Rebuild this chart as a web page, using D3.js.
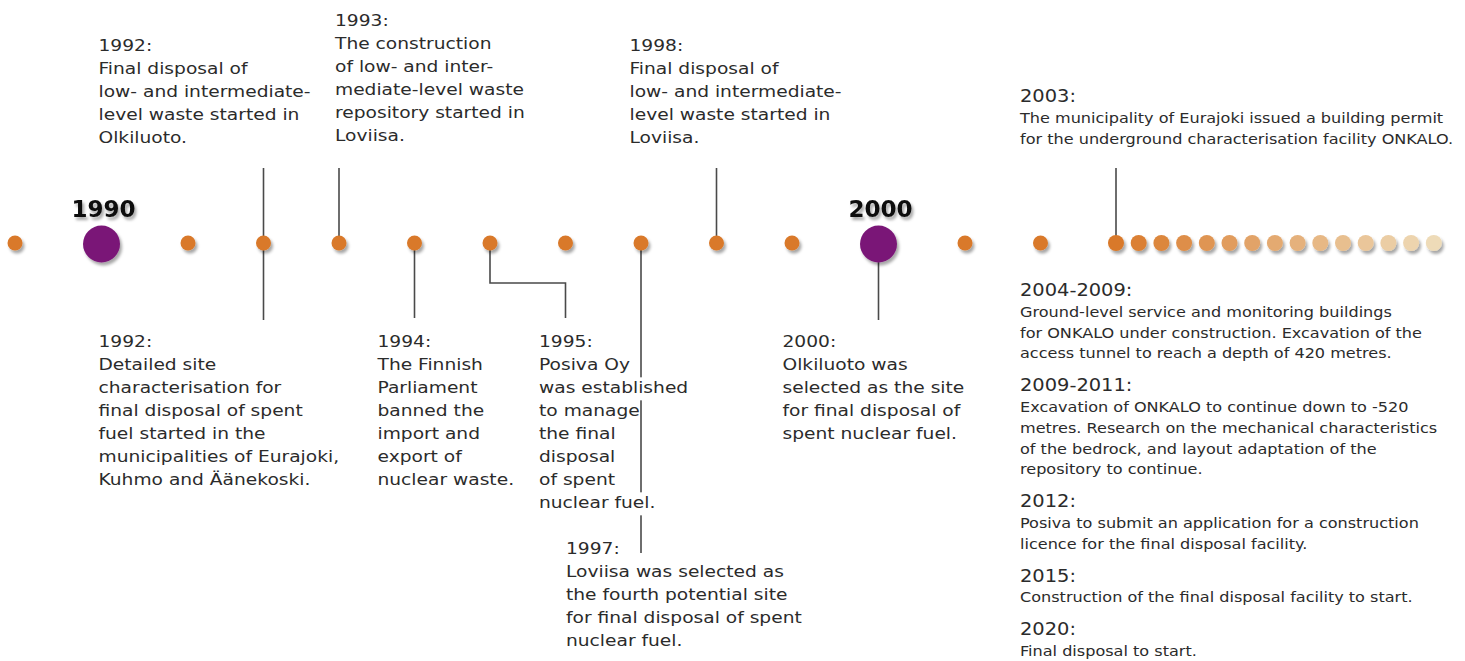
<!DOCTYPE html>
<html>
<head>
<meta charset="utf-8">
<script src="https://cdn.jsdelivr.net/npm/d3@7"></script>
<style>
  body { margin: 0; background: #fff; }
  svg { display: block; }
</style>
</head>
<body>
<svg id="chart"></svg>
<script>
// years shown as dots on the line
const pastYears = [1989, 1990, 1991, 1992, 1993, 1994, 1995, 1996, 1997, 1998, 1999, 2000, 2001, 2002];
const futureYears = [2003, 2004, 2005, 2006, 2007, 2008, 2009, 2010, 2011, 2012, 2013, 2014, 2015, 2016, 2017];
const decadeYears = [1990, 2000];

// events above the line
const topYears = [1992, 1993, 1998, 2003];
const topTexts = [
    ["1992:", "Final disposal of", "low- and intermediate-", "level waste started in", "Olkiluoto."],
    ["1993:", "The construction", "of low- and inter-", "mediate-level waste", "repository started in", "Loviisa."],
    ["1998:", "Final disposal of", "low- and intermediate-", "level waste started in", "Loviisa."],
    ["2003:", "The municipality of Eurajoki issued a building permit", "for the underground characterisation facility ONKALO."]
];

// events below the line
const bottomYears = [1992, 1994, 1995, 1997, 2000];
const bottomTexts = [
    ["1992:", "Detailed site", "characterisation for", "final disposal of spent", "fuel started in the", "municipalities of Eurajoki,", "Kuhmo and Äänekoski."],
    ["1994:", "The Finnish", "Parliament", "banned the", "import and", "export of", "nuclear waste."],
    ["1995:", "Posiva Oy", "was established", "to manage", "the final", "disposal", "of spent", "nuclear fuel."],
    ["1997:", "Loviisa was selected as", "the fourth potential site", "for final disposal of spent", "nuclear fuel."],
    ["2000:", "Olkiluoto was", "selected as the site", "for final disposal of", "spent nuclear fuel."]
];

// plans listed on the right
const planHeads = ["2004-2009:", "2009-2011:", "2012:", "2015:", "2020:"];
const planTexts = [
    ["Ground-level service and monitoring buildings", "for ONKALO under construction. Excavation of the", "access tunnel to reach a depth of 420 metres."],
    ["Excavation of ONKALO to continue down to -520", "metres. Research on the mechanical characteristics", "of the bedrock, and layout adaptation of the", "repository to continue."],
    ["Posiva to submit an application for a construction", "licence for the final disposal facility."],
    ["Construction of the final disposal facility to start."],
    ["Final disposal to start."]
];

const width = 1465, height = 661;
const lineY = 243;
const textColor = "#2b2b2b";
const stroke = "#4a4a4a";

const svg = d3.select("#chart")
    .attr("width", width)
    .attr("height", height)
    .style("background", "#fff");

// soft shadow for the dots and decade labels
const defs = svg.append("defs");
defs.append("filter").attr("id", "shadow")
    .attr("x", "-50%").attr("y", "-50%").attr("width", "200%").attr("height", "200%")
    .append("feDropShadow")
    .attr("dx", 2).attr("dy", 3).attr("stdDeviation", 1.8)
    .attr("flood-color", "#000").attr("flood-opacity", 0.35);

// piecewise x scale: wider gap round the decade dots, tight spacing for future years
const step = 75.5, decadeStep = 86.5, futureStep = 22.7;
const knots = [1989, 1990, 1991, 1999, 2000, 2001, 2003, 2017];
const gaps = [decadeStep, decadeStep, step, decadeStep, decadeStep, step, futureStep];
const knotX = [15];
gaps.forEach((g, i) => knotX.push(knotX[i] + g * (knots[i + 1] - knots[i])));
const x = d3.scaleLinear().domain(knots).range(knotX);

const futureColor = d3.scaleLinear()
    .domain([0, futureYears.length - 1])
    .range(["#d9792a", "#eedbb8"])
    .interpolate(d3.interpolateRgb);

// connector lines (drawn first, text boxes sit on top)
const link = d3.line();
const connectors = [
    [[x(1992), 168], [x(1992), lineY]],
    [[x(1993), 168], [x(1993), lineY]],
    [[x(1998), 168], [x(1998), lineY]],
    [[x(2003), 168], [x(2003), lineY]],
    [[x(1992), lineY], [x(1992), 320]],
    [[x(1994), lineY], [x(1994), 318]],
    [[x(1995), lineY], [x(1995), 283], [x(1996), 283], [x(1996), 318]],
    [[x(1997), lineY], [x(1997), 553]],
    [[x(2000), lineY], [x(2000), 320]]
];
svg.append("g").selectAll("path")
    .data(connectors)
    .join("path")
    .attr("d", link)
    .attr("fill", "none")
    .attr("stroke", stroke)
    .attr("stroke-width", 1.6);

// dots
const dots = svg.append("g");
dots.selectAll("circle.past")
    .data(pastYears.filter(y => !decadeYears.includes(y)))
    .join("circle")
    .attr("class", "past")
    .attr("cx", d => x(d))
    .attr("cy", lineY)
    .attr("r", 7.5)
    .attr("fill", "#d9792a")
    .attr("filter", "url(#shadow)");

dots.selectAll("circle.future")
    .data(futureYears)
    .join("circle")
    .attr("class", "future")
    .attr("cx", d => x(d))
    .attr("cy", lineY)
    .attr("r", 8)
    .attr("fill", (d, i) => futureColor(i))
    .attr("filter", "url(#shadow)");

dots.selectAll("circle.decade")
    .data(decadeYears)
    .join("circle")
    .attr("class", "decade")
    .attr("cx", d => x(d))
    .attr("cy", lineY + 1)
    .attr("r", 18.5)
    .attr("fill", "#7a1677")
    .attr("filter", "url(#shadow)");

dots.selectAll("text.decade")
    .data(decadeYears)
    .join("text")
    .attr("class", "decade")
    .attr("x", d => x(d) + 2)
    .attr("y", 217)
    .attr("text-anchor", "middle")
    .attr("font-family", "DejaVu Sans, Verdana, sans-serif")
    .attr("font-weight", "bold")
    .attr("font-size", 23)
    .attr("fill", "#111")
    .attr("filter", "url(#shadow)")
    .text(d => d);

// text block helper: white box behind each line, like the original html labels
function textBlock(lines, tx, ty, opts) {
    const g = svg.append("g")
        .attr("transform", `translate(${tx},${ty}) scale(${opts.sx},1)`);
    let yy = 0;
    lines.forEach((line, i) => {
        const size = i === 0 && opts.headSize ? opts.headSize : opts.size;
        const t = g.append("text")
            .attr("x", 0)
            .attr("y", yy)
            .attr("font-family", opts.font)
            .attr("font-size", size)
            .attr("fill", textColor)
            .text(line);
        const w = t.node().getComputedTextLength();
        g.insert("rect", "text")
            .attr("x", -1)
            .attr("y", yy - size * 0.95)
            .attr("width", w + 1)
            .attr("height", opts.lead)
            .attr("fill", "#fff");
        yy += opts.lead;
    });
    return yy;
}

const leftStyle = { font: "DejaVu Sans, Verdana, sans-serif", size: 16.5, lead: 23, sx: 1.13 };

const topPlace = [{ dx: -165, y: 51 }, { dx: -4, y: 26 }, { dx: -87, y: 51 }];
topTexts.slice(0, 3).forEach((lines, i) =>
    textBlock(lines, x(topYears[i]) + topPlace[i].dx, topPlace[i].y, leftStyle));

const bottomPlace = [{ dx: -165, y: 347 }, { dx: -37, y: 347 }, { dx: 49, y: 347 }, { dx: -75, y: 554 }, { dx: -96, y: 347 }];
bottomTexts.forEach((lines, i) =>
    textBlock(lines, x(bottomYears[i]) + bottomPlace[i].dx, bottomPlace[i].y, leftStyle));

// right column
const rightStyle = { font: "DejaVu Sans, Tahoma, sans-serif", size: 14.5, headSize: 17.5, lead: 20.8, sx: 1.11 };
const rightX = x(2003) - 96;
textBlock(topTexts[3], rightX, 102, rightStyle);

let ry = 296;
planHeads.forEach((head, i) => {
    const used = textBlock([head].concat(planTexts[i]), rightX, ry, rightStyle);
    ry += used + 12;
});
</script>
</body>
</html>
